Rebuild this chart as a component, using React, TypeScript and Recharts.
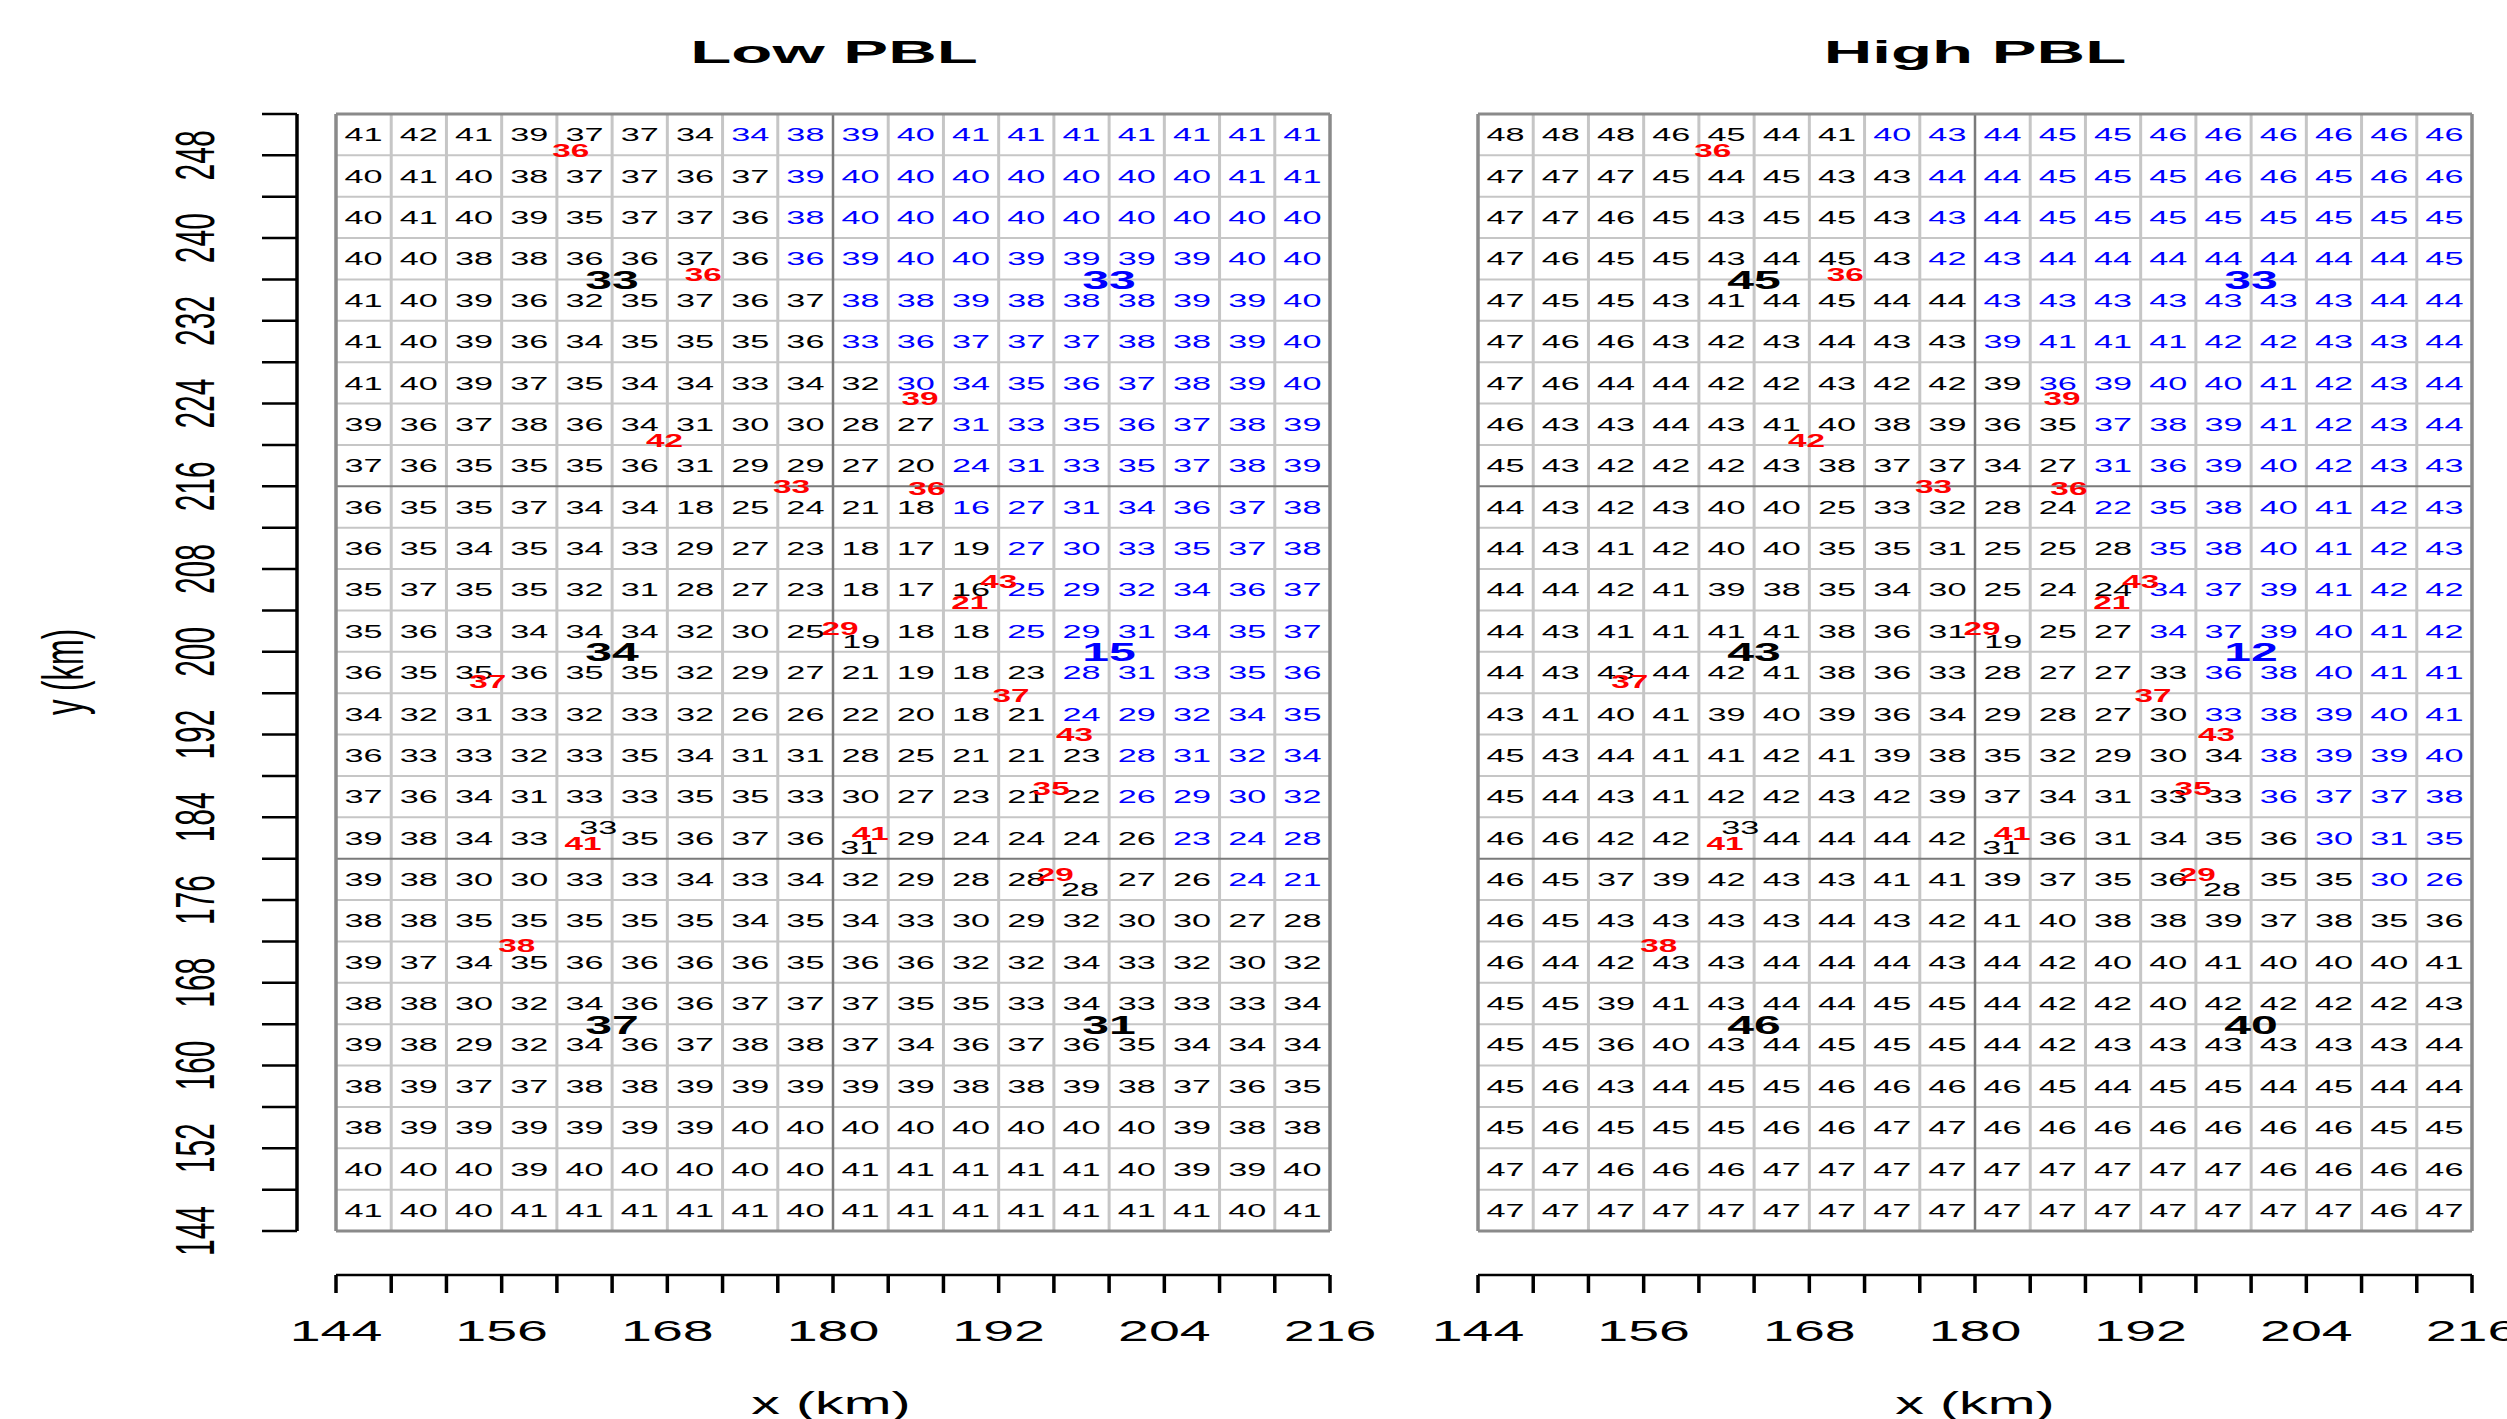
import React from 'react';
import { ScatterChart, Scatter, XAxis, YAxis, ReferenceLine } from 'recharts';

const FONT = '"Liberation Sans", Arial, Helvetica, sans-serif';
const SX = 1.85; // horizontal stretch of the lettering in the reference

// ---------- axes / grid ----------
const colCenters = [146, 150, 154, 158, 162, 166, 170, 174, 178, 182, 186, 190, 194, 198, 202, 206, 210, 214];
const rowCenters = [250, 246, 242, 238, 234, 230, 226, 222, 218, 214, 210, 206, 202, 198, 194, 190, 186, 182, 178, 174, 170, 166, 162, 158, 154, 150, 146];
const xTicks = [144, 148, 152, 156, 160, 164, 168, 172, 176, 180, 184, 188, 192, 196, 200, 204, 208, 212, 216];
const xTickLabels = [144, 156, 168, 180, 192, 204, 216];
const yTicks = [144, 148, 152, 156, 160, 164, 168, 172, 176, 180, 184, 188, 192, 196, 200, 204, 208, 212, 216, 220, 224, 228, 232, 236, 240, 244, 248, 252];
const yTickLabels = [144, 152, 160, 168, 176, 184, 192, 200, 208, 216, 224, 232, 240, 248];
const xCellEdges = [148, 152, 156, 160, 164, 168, 172, 176, 184, 188, 192, 196, 200, 204, 208, 212];
const yCellEdges = [148, 152, 156, 160, 164, 168, 172, 176, 184, 188, 192, 196, 200, 204, 208, 212, 220, 224, 228, 232, 236, 240, 244, 248];
const xDividers = [180];
const yDividers = [180, 216];
const xBorders = [144, 216];
const yBorders = [144, 252];

// first (1-based) column drawn in blue, per row from the top; 0 = none
const blueStartCol = [8, 9, 9, 9, 10, 10, 11, 12, 12, 12, 13, 13, 13, 14, 14, 15, 15, 16, 17, 0, 0, 0, 0, 0, 0, 0, 0];

// ---------- Low PBL cell values (rows top -> bottom) ----------
const lowPBL: (number | null)[][] = [
  [41, 42, 41, 39, 37, 37, 34, 34, 38, 39, 40, 41, 41, 41, 41, 41, 41, 41],
  [40, 41, 40, 38, 37, 37, 36, 37, 39, 40, 40, 40, 40, 40, 40, 40, 41, 41],
  [40, 41, 40, 39, 35, 37, 37, 36, 38, 40, 40, 40, 40, 40, 40, 40, 40, 40],
  [40, 40, 38, 38, 36, 36, 37, 36, 36, 39, 40, 40, 39, 39, 39, 39, 40, 40],
  [41, 40, 39, 36, 32, 35, 37, 36, 37, 38, 38, 39, 38, 38, 38, 39, 39, 40],
  [41, 40, 39, 36, 34, 35, 35, 35, 36, 33, 36, 37, 37, 37, 38, 38, 39, 40],
  [41, 40, 39, 37, 35, 34, 34, 33, 34, 32, 30, 34, 35, 36, 37, 38, 39, 40],
  [39, 36, 37, 38, 36, 34, 31, 30, 30, 28, 27, 31, 33, 35, 36, 37, 38, 39],
  [37, 36, 35, 35, 35, 36, 31, 29, 29, 27, 20, 24, 31, 33, 35, 37, 38, 39],
  [36, 35, 35, 37, 34, 34, 18, 25, 24, 21, 18, 16, 27, 31, 34, 36, 37, 38],
  [36, 35, 34, 35, 34, 33, 29, 27, 23, 18, 17, 19, 27, 30, 33, 35, 37, 38],
  [35, 37, 35, 35, 32, 31, 28, 27, 23, 18, 17, 16, 25, 29, 32, 34, 36, 37],
  [35, 36, 33, 34, 34, 34, 32, 30, 25, null, 18, 18, 25, 29, 31, 34, 35, 37],
  [36, 35, 35, 36, 35, 35, 32, 29, 27, 21, 19, 18, 23, 28, 31, 33, 35, 36],
  [34, 32, 31, 33, 32, 33, 32, 26, 26, 22, 20, 18, 21, 24, 29, 32, 34, 35],
  [36, 33, 33, 32, 33, 35, 34, 31, 31, 28, 25, 21, 21, 23, 28, 31, 32, 34],
  [37, 36, 34, 31, 33, 33, 35, 35, 33, 30, 27, 23, 21, 22, 26, 29, 30, 32],
  [39, 38, 34, 33, null, 35, 36, 37, 36, null, 29, 24, 24, 24, 26, 23, 24, 28],
  [39, 38, 30, 30, 33, 33, 34, 33, 34, 32, 29, 28, 28, null, 27, 26, 24, 21],
  [38, 38, 35, 35, 35, 35, 35, 34, 35, 34, 33, 30, 29, 32, 30, 30, 27, 28],
  [39, 37, 34, 35, 36, 36, 36, 36, 35, 36, 36, 32, 32, 34, 33, 32, 30, 32],
  [38, 38, 30, 32, 34, 36, 36, 37, 37, 37, 35, 35, 33, 34, 33, 33, 33, 34],
  [39, 38, 29, 32, 34, 36, 37, 38, 38, 37, 34, 36, 37, 36, 35, 34, 34, 34],
  [38, 39, 37, 37, 38, 38, 39, 39, 39, 39, 39, 38, 38, 39, 38, 37, 36, 35],
  [38, 39, 39, 39, 39, 39, 39, 40, 40, 40, 40, 40, 40, 40, 40, 39, 38, 38],
  [40, 40, 40, 39, 40, 40, 40, 40, 40, 41, 41, 41, 41, 41, 40, 39, 39, 40],
  [41, 40, 40, 41, 41, 41, 41, 41, 40, 41, 41, 41, 41, 41, 41, 41, 40, 41],
];

// ---------- High PBL cell values ----------
const highPBL: (number | null)[][] = [
  [48, 48, 48, 46, 45, 44, 41, 40, 43, 44, 45, 45, 46, 46, 46, 46, 46, 46],
  [47, 47, 47, 45, 44, 45, 43, 43, 44, 44, 45, 45, 45, 46, 46, 45, 46, 46],
  [47, 47, 46, 45, 43, 45, 45, 43, 43, 44, 45, 45, 45, 45, 45, 45, 45, 45],
  [47, 46, 45, 45, 43, 44, 45, 43, 42, 43, 44, 44, 44, 44, 44, 44, 44, 45],
  [47, 45, 45, 43, 41, 44, 45, 44, 44, 43, 43, 43, 43, 43, 43, 43, 44, 44],
  [47, 46, 46, 43, 42, 43, 44, 43, 43, 39, 41, 41, 41, 42, 42, 43, 43, 44],
  [47, 46, 44, 44, 42, 42, 43, 42, 42, 39, 36, 39, 40, 40, 41, 42, 43, 44],
  [46, 43, 43, 44, 43, 41, 40, 38, 39, 36, 35, 37, 38, 39, 41, 42, 43, 44],
  [45, 43, 42, 42, 42, 43, 38, 37, 37, 34, 27, 31, 36, 39, 40, 42, 43, 43],
  [44, 43, 42, 43, 40, 40, 25, 33, 32, 28, 24, 22, 35, 38, 40, 41, 42, 43],
  [44, 43, 41, 42, 40, 40, 35, 35, 31, 25, 25, 28, 35, 38, 40, 41, 42, 43],
  [44, 44, 42, 41, 39, 38, 35, 34, 30, 25, 24, 24, 34, 37, 39, 41, 42, 42],
  [44, 43, 41, 41, 41, 41, 38, 36, 31, null, 25, 27, 34, 37, 39, 40, 41, 42],
  [44, 43, 43, 44, 42, 41, 38, 36, 33, 28, 27, 27, 33, 36, 38, 40, 41, 41],
  [43, 41, 40, 41, 39, 40, 39, 36, 34, 29, 28, 27, 30, 33, 38, 39, 40, 41],
  [45, 43, 44, 41, 41, 42, 41, 39, 38, 35, 32, 29, 30, 34, 38, 39, 39, 40],
  [45, 44, 43, 41, 42, 42, 43, 42, 39, 37, 34, 31, 33, 33, 36, 37, 37, 38],
  [46, 46, 42, 42, null, 44, 44, 44, 42, null, 36, 31, 34, 35, 36, 30, 31, 35],
  [46, 45, 37, 39, 42, 43, 43, 41, 41, 39, 37, 35, 36, null, 35, 35, 30, 26],
  [46, 45, 43, 43, 43, 43, 44, 43, 42, 41, 40, 38, 38, 39, 37, 38, 35, 36],
  [46, 44, 42, 43, 43, 44, 44, 44, 43, 44, 42, 40, 40, 41, 40, 40, 40, 41],
  [45, 45, 39, 41, 43, 44, 44, 45, 45, 44, 42, 42, 40, 42, 42, 42, 42, 43],
  [45, 45, 36, 40, 43, 44, 45, 45, 45, 44, 42, 43, 43, 43, 43, 43, 43, 44],
  [45, 46, 43, 44, 45, 45, 46, 46, 46, 46, 45, 44, 45, 45, 44, 45, 44, 44],
  [45, 46, 45, 45, 45, 46, 46, 47, 47, 46, 46, 46, 46, 46, 46, 46, 45, 45],
  [47, 47, 46, 46, 46, 47, 47, 47, 47, 47, 47, 47, 47, 47, 46, 46, 46, 46],
  [47, 47, 47, 47, 47, 47, 47, 47, 47, 47, 47, 47, 47, 47, 47, 47, 46, 47],
];

// ---------- station labels (same in both panels) ----------
const stationX = [182.05, 163.0, 181.9, 197.9];
const stationY = [201.0, 183.0, 181.1, 177.0];
const stationVal = [19, 33, 31, 28];

// ---------- observed values (red) ----------
const obsX = [161.0, 170.6, 167.8, 177.0, 186.3, 186.8, 192.0, 189.9, 180.5, 155.0, 192.9, 197.5, 195.8, 161.9, 182.7, 196.1, 157.1];
const obsY = [248.5, 236.5, 220.4, 216.0, 224.5, 215.8, 206.8, 204.8, 202.3, 197.1, 195.8, 192.0, 186.8, 181.5, 182.4, 178.5, 171.6];
const obsVal = [36, 36, 42, 33, 39, 36, 43, 21, 29, 37, 37, 43, 35, 41, 41, 29, 38];

// ---------- block summary labels ----------
const blockX = [164, 200, 164, 200, 164, 200];
const blockY = [236, 236, 200, 200, 164, 164];
const blockBlue = [false, true, false, true, false, false];
const lowBlockVals = [33, 33, 34, 15, 37, 31];
const highBlockVals = [45, 33, 43, 12, 46, 40];

type Pt = { x: number; y: number; v: number; blue?: boolean };

function buildCells(grid: (number | null)[][]): Pt[] {
  const out: Pt[] = [];
  grid.forEach((row, r) =>
    row.forEach((v, c) => {
      if (v == null) return;
      const start = blueStartCol[r];
      out.push({ x: colCenters[c], y: rowCenters[r], v, blue: start > 0 && c + 1 >= start });
    })
  );
  return out;
}

const stations: Pt[] = stationVal.map((v, i) => ({ x: stationX[i], y: stationY[i], v }));
const observations: Pt[] = obsVal.map((v, i) => ({ x: obsX[i], y: obsY[i], v }));
const buildBlocks = (vals: number[]): Pt[] => vals.map((v, i) => ({ x: blockX[i], y: blockY[i], v, blue: blockBlue[i] }));

const BLACK = '#000000';
const BLUE = '#0000FF';
const RED = '#FF0000';

function stretched(cx: number, cy: number, text: any, size: number, weight: string | number, fill: string) {
  return (
    <text
      transform={`translate(${cx},${cy}) scale(${SX},1)`}
      textAnchor="middle"
      dy="0.36em"
      fontFamily={FONT}
      fontSize={size}
      fontWeight={weight}
      fill={fill}
    >
      {text}
    </text>
  );
}

const cellShape = (p: any) =>
  p.cx == null ? <g /> : stretched(p.cx, p.cy, p.payload.v, 18.5, 'normal', p.payload.blue ? BLUE : BLACK);
const stationShape = (p: any) => (p.cx == null ? <g /> : stretched(p.cx, p.cy, p.payload.v, 18.5, 'normal', BLACK));
const obsShape = (p: any) => (p.cx == null ? <g /> : stretched(p.cx, p.cy, p.payload.v, 18, 'bold', RED));
const blockShape = (p: any) =>
  p.cx == null ? <g /> : stretched(p.cx, p.cy, p.payload.v, 26, 'bold', p.payload.blue ? BLUE : BLACK);

const XTick = (p: any) => {
  const v = p.payload?.value;
  if (!xTickLabels.includes(v)) return <g />;
  return stretched(p.x, p.y, v, 30, 'normal', BLACK);
};

const YTick = (p: any) => {
  const v = p.payload?.value;
  if (!yTickLabels.includes(v)) return <g />;
  return (
    <text
      transform={`translate(${p.x},${p.y}) scale(${SX},1) rotate(-90)`}
      textAnchor="middle"
      dy="0.36em"
      fontFamily={FONT}
      fontSize={30}
      fill={BLACK}
    >
      {v}
    </text>
  );
};

const lightLine = { stroke: '#C6C6C6', strokeWidth: 2 };

function Panel({ left, grid, blockVals, showYAxis }: { left: number; grid: (number | null)[][]; blockVals: number[]; showYAxis: boolean }) {
  const cells = buildCells(grid);
  const blocks = buildBlocks(blockVals);
  return (
    <div style={{ position: 'absolute', left, top: 0 }}>
      <ScatterChart width={1400} height={1419} margin={{ top: 114, right: 70, bottom: 0, left: 0 }}>
        <XAxis xAxisId="gap" type="number" domain={[144, 216]} height={44} tick={false} axisLine={false} tickLine={false} />
        <XAxis
          xAxisId="main"
          dataKey="x"
          type="number"
          domain={[144, 216]}
          ticks={xTicks}
          interval={0}
          height={144}
          tickSize={18}
          tickMargin={37}
          axisLine={{ stroke: BLACK, strokeWidth: 2.5 }}
          tickLine={{ stroke: BLACK, strokeWidth: 3.5 }}
          tick={<XTick />}
        />
        <YAxis yAxisId="gap" type="number" domain={[144, 252]} width={39} tick={false} axisLine={false} tickLine={false} />
        <YAxis
          yAxisId="main"
          dataKey="y"
          type="number"
          domain={[144, 252]}
          ticks={yTicks}
          interval={0}
          width={297}
          tickSize={35}
          tickMargin={68}
          axisLine={showYAxis ? { stroke: BLACK, strokeWidth: 3.5 } : false}
          tickLine={showYAxis ? { stroke: BLACK, strokeWidth: 2.5 } : false}
          tick={showYAxis ? <YTick /> : false}
        />
        {xCellEdges.map((v) => (
          <ReferenceLine key={`xe${v}`} x={v} xAxisId="main" yAxisId="main" stroke={lightLine.stroke} strokeWidth={3} />
        ))}
        {yCellEdges.map((v) => (
          <ReferenceLine key={`ye${v}`} y={v} xAxisId="main" yAxisId="main" stroke={lightLine.stroke} strokeWidth={2} />
        ))}
        {xDividers.map((v) => (
          <ReferenceLine key={`xd${v}`} x={v} xAxisId="main" yAxisId="main" stroke="#7A7A7A" strokeWidth={2.5} />
        ))}
        {yDividers.map((v) => (
          <ReferenceLine key={`yd${v}`} y={v} xAxisId="main" yAxisId="main" stroke="#7A7A7A" strokeWidth={2} />
        ))}
        {xBorders.map((v) => (
          <ReferenceLine key={`xb${v}`} x={v} xAxisId="main" yAxisId="main" stroke="#8A8A8A" strokeWidth={3.5} />
        ))}
        {yBorders.map((v) => (
          <ReferenceLine key={`yb${v}`} y={v} xAxisId="main" yAxisId="main" stroke="#8A8A8A" strokeWidth={3} />
        ))}
        <Scatter data={cells} xAxisId="main" yAxisId="main" shape={cellShape} isAnimationActive={false} />
        <Scatter data={stations} xAxisId="main" yAxisId="main" shape={stationShape} isAnimationActive={false} />
        <Scatter data={observations} xAxisId="main" yAxisId="main" shape={obsShape} isAnimationActive={false} />
        <Scatter data={blocks} xAxisId="main" yAxisId="main" shape={blockShape} isAnimationActive={false} />
      </ScatterChart>
    </div>
  );
}

const titleStyle = (cx: number, cy: number, size: number, weight: string, sx: number, rotate = 0): React.CSSProperties => ({
  position: 'absolute',
  left: cx,
  top: cy,
  transform: `translate(-50%, -50%) scaleX(${sx}) rotate(${rotate}deg)`,
  fontFamily: FONT,
  fontSize: size,
  fontWeight: weight as any,
  lineHeight: 1,
  whiteSpace: 'nowrap',
  color: BLACK,
});

export default function App() {
  return (
    <div style={{ position: 'absolute', left: 0, top: 0, width: 2507, height: 1419, overflow: 'hidden', background: '#FFFFFF' }}>
      <Panel left={0} grid={lowPBL} blockVals={lowBlockVals} showYAxis={true} />
      <Panel left={1142} grid={highPBL} blockVals={highBlockVals} showYAxis={false} />
      <div style={titleStyle(834, 52, 32, 'bold', 2.1)}>Low PBL</div>
      <div style={titleStyle(1975, 52, 32, 'bold', 2.1)}>High PBL</div>
      <div style={titleStyle(831, 1403, 31, 'normal', SX)}>x (km)</div>
      <div style={titleStyle(1975, 1403, 31, 'normal', SX)}>x (km)</div>
      <div style={titleStyle(64, 672, 31, 'normal', SX, -90)}>y (km)</div>
    </div>
  );
}
